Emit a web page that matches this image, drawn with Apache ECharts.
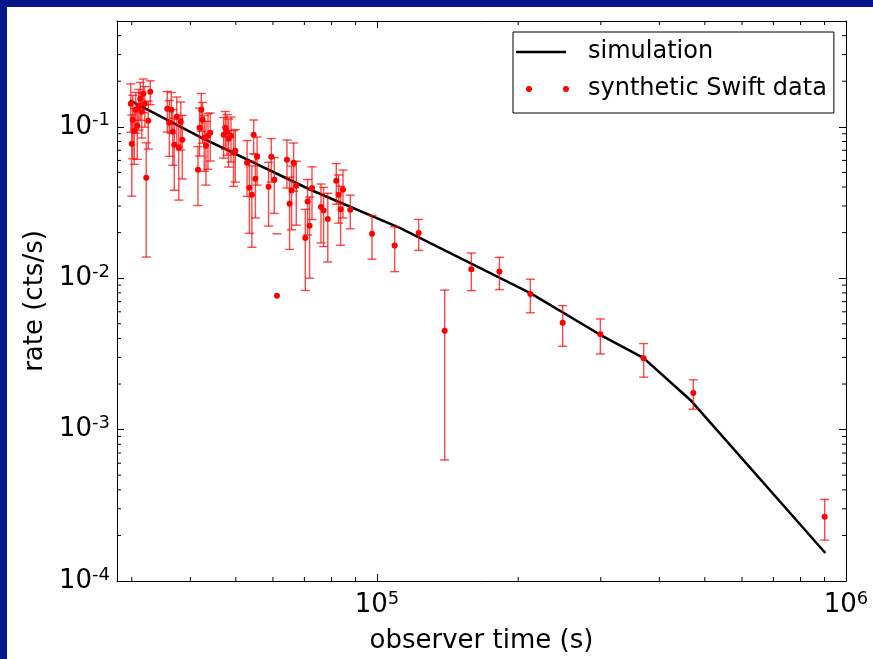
<!DOCTYPE html>
<html><head><meta charset="utf-8">
<script src="https://cdn.jsdelivr.net/npm/echarts@6/dist/echarts.min.js"></script>
<style>
html,body{margin:0;padding:0;background:#04168c;width:873px;height:659px;overflow:hidden;}
#chart{position:absolute;left:7px;top:7px;width:866px;height:652px;background:#fff;}
</style></head><body><div id="chart"></div>
<script>
// ---- data ----
const simTime = [29700, 42000, 72100, 112100, 212300, 299200, 369800, 465600, 903500];
const simRate = [0.1494, 0.0856, 0.0384, 0.02144, 0.00797, 0.00423, 0.00298, 0.00157, 0.000153];

const obsTime = [29850,30000,30150,30370,30590,30820,31050,31280,31510,31740,31980,32210,32530,32850,
  35710,36070,36420,36690,36960,37420,37790,38160,38440,
  41520,41840,42190,42460,42820,43180,43610,44100,
  47090,47480,47880,48260,48830,49450,49870,
  52840,53440,54100,54580,55040,55500,
  58720,59500,60390,61190,
  64270,65100,65740,66390,67280,
  70320,71120,71820,72670,
  75960,76930,78530,
  81880,82810,83630,84620,87700,
  97590,109050,122700,139400,158900,182400,212300,248800,299400,370300,472500,900600];
const obsRate = [0.1421,0.0773,0.1114,0.0942,0.1297,0.1017,0.1358,0.1534,0.1258,0.1655,0.1421,0.0461,0.1097,0.1706,
  0.1317,0.1064,0.1297,0.0928,0.0761,0.1166,0.0728,0.1081,0.0822,
  0.0521,0.0986,0.1297,0.1114,0.0847,0.0750,0.0873,0.0914,
  0.0887,0.0986,0.0928,0.0834,0.0873,0.0674,0.0695,
  0.0579,0.0396,0.0356,0.0887,0.0454,0.0634,
  0.0402,0.0634,0.0447,0.00765,
  0.0606,0.0310,0.0380,0.0579,0.0408,
  0.0184,0.0321,0.0222,0.0394,
  0.0295,0.0280,0.0246,
  0.0440,0.0356,0.0285,0.0384,0.0283,
  0.01965,0.01645,0.01987,0.00449,0.01148,0.01107,0.00788,0.00507,0.00427,0.00296,0.001748,0.000266];
const obsErr = [0.050,0.0425,0.050,0.0377,0.039,0.0407,0.0407,0.043,0.0415,0.0414,0.0426,0.0323,0.0384,0.0307,
  0.0395,0.0426,0.0389,0.0371,0.038,0.0408,0.040,0.0378,0.037,
  0.0219,0.0345,0.0363,0.0334,0.0339,0.0338,0.0349,0.032,
  0.0266,0.0276,0.0278,0.0292,0.0288,0.027,0.0264,
  0.0232,0.0198,0.0196,0.0222,0.0204,0.0222,
  0.0181,0.0203,0.0179,0.0120,
  0.0212,0.0155,0.0171,0.0203,0.0184,
  0.0101,0.0128,0.0122,0.015,
  0.0124,0.0118,0.0118,
  0.0132,0.0125,0.012,0.0134,0.0071,
  0.0063,0.0054,0.0046,0.00386,0.0032,0.00266,0.00197,0.00152,0.00111,0.00074,0.000385,0.0000798];

const xMin = 27900, xMax = 1e6;
const yMin = 1e-4, yMax = 0.5;
const xMinorTicks = [3e4,4e4,5e4,6e4,7e4,8e4,9e4,2e5,3e5,4e5,5e5,6e5,7e5,8e5,9e5];
const yMinorTicks = [2e-4,3e-4,4e-4,5e-4,6e-4,7e-4,8e-4,9e-4,2e-3,3e-3,4e-3,5e-3,6e-3,7e-3,8e-3,9e-3,
  2e-2,3e-2,4e-2,5e-2,6e-2,7e-2,8e-2,9e-2,2e-1,3e-1,4e-1];
const seriesNames = ['simulation', 'synthetic Swift data'];
const axisNames = {x: 'observer time (s)', y: 'rate (cts/s)'};

// ---- chart ----
const FONT = 'DejaVu Sans';
function powLabel(v) {
  const e = Math.round(Math.log10(v));
  if (Math.abs(v / Math.pow(10, e) - 1) > 1e-6) return '';
  return '{b|10}{s|' + e + '}';
}
const rich = {
  b: {fontSize: 26, fontFamily: FONT, color: '#000', lineHeight: 30},
  s: {fontSize: 18, fontFamily: FONT, color: '#000', lineHeight: 18, verticalAlign: 'top'}
};
const lineBlack = {color: '#000', width: 1};
function mkAxis(pos, isX, show) {
  return {
    type: 'log', logBase: 10, position: pos,
    min: isX ? xMin : yMin, max: isX ? xMax : yMax,
    splitLine: {show: false},
    axisLine: {show: true, lineStyle: lineBlack},
    axisTick: {show: true, inside: true, length: 7, lineStyle: lineBlack},
    minorTick: {show: false},
    axisLabel: show ? {show: true, formatter: powLabel, rich: rich, margin: isX ? 9 : 7, interval: 0, hideOverlap: false, showMinLabel: true, showMaxLabel: true} : {show: false},
    name: show ? (isX ? axisNames.x : axisNames.y) : '',
    nameLocation: 'middle',
    nameGap: isX ? 47 : 63,
    nameTextStyle: {fontSize: 26, fontFamily: FONT, color: '#000'}
  };
}

const xs = obsTime.map((t, i) => [t, obsRate[i], obsErr[i]]);

const chart = echarts.init(document.getElementById('chart'), null, {renderer: 'canvas'});
chart.setOption({
  backgroundColor: '#fff',
  animation: false,
  grid: {left: 110, top: 14, right: 27, bottom: 78, containLabel: false},
  xAxis: [mkAxis('bottom', true, true), mkAxis('top', true, false)],
  yAxis: [mkAxis('left', false, true), mkAxis('right', false, false)],
  legend: {
    orient: 'vertical', left: 506, top: 25,
    padding: [8, 7, 12, 3], itemGap: 13, itemWidth: 67, itemHeight: 14,
    borderColor: '#000', borderWidth: 1, borderRadius: 0, backgroundColor: '#fff',
    textStyle: {fontSize: 24, fontFamily: FONT, color: '#000'},
    selectedMode: false,
    data: [
      {name: seriesNames[0], icon: 'path://M0,0 M67,14 M0,5.8 L50,5.8 L50,8.3 L0,8.3 Z', itemStyle: {color: '#000', borderWidth: 0, opacity: 1}},
      {name: seriesNames[1], icon: 'path://M0,0 M67,14 M10,7 a3,3 0 1,0 6,0 a3,3 0 1,0 -6,0 Z M47,7 a3,3 0 1,0 6,0 a3,3 0 1,0 -6,0 Z', itemStyle: {color: '#f00', borderWidth: 0, opacity: 1}}
    ]
  },
  series: [
    {
      type: 'custom', name: 'xminor', silent: true, z: 1,
      data: xMinorTicks.map(v => [v, yMax]),
      renderItem(params, api) {
        const x = api.coord([api.value(0), yMax])[0];
        const cs = params.coordSys;
        const st = {stroke: '#000', lineWidth: 1};
        return {type: 'group', children: [
          {type: 'line', shape: {x1: x, y1: cs.y + cs.height, x2: x, y2: cs.y + cs.height - 4}, style: st},
          {type: 'line', shape: {x1: x, y1: cs.y, x2: x, y2: cs.y + 4}, style: st}
        ]};
      }
    },
    {
      type: 'custom', name: 'yminor', silent: true, z: 1,
      data: yMinorTicks.map(v => [xMax, v]),
      renderItem(params, api) {
        const y = api.coord([xMax, api.value(1)])[1];
        const cs = params.coordSys;
        const st = {stroke: '#000', lineWidth: 1};
        return {type: 'group', children: [
          {type: 'line', shape: {x1: cs.x, y1: y, x2: cs.x + 4, y2: y}, style: st},
          {type: 'line', shape: {x1: cs.x + cs.width, y1: y, x2: cs.x + cs.width - 4, y2: y}, style: st}
        ]};
      }
    },
    {
      type: 'line', name: seriesNames[0], z: 2,
      data: simTime.map((t, i) => [t, simRate[i]]),
      showSymbol: false, symbol: 'none', smooth: false,
      lineStyle: {color: '#000', width: 2.5},
      itemStyle: {color: '#000'}
    },
    {
      type: 'custom', name: 'errorbars', z: 3, silent: true,
      data: xs,
      renderItem(params, api) {
        const t = api.value(0), r = api.value(1), e = api.value(2);
        const hi = api.coord([t, r + e]);
        const cw = 4.5;
        const st = {stroke: 'rgba(255,0,0,0.72)', lineWidth: 1.4};
        const ch = [{type: 'line', shape: {x1: hi[0] - cw, y1: hi[1], x2: hi[0] + cw, y2: hi[1]}, style: st}];
        if (r - e > 0) {
          const lo = api.coord([t, r - e]);
          ch.push({type: 'line', shape: {x1: lo[0], y1: lo[1], x2: hi[0], y2: hi[1]}, style: st});
          ch.push({type: 'line', shape: {x1: lo[0] - cw, y1: lo[1], x2: lo[0] + cw, y2: lo[1]}, style: st});
        }
        return {type: 'group', children: ch};
      }
    },
    {
      type: 'scatter', name: seriesNames[1], z: 4,
      data: obsTime.map((t, i) => [t, obsRate[i]]),
      symbol: 'circle', symbolSize: 6,
      itemStyle: {color: '#f00', opacity: 1}
    }
  ]
});
</script></body></html>
